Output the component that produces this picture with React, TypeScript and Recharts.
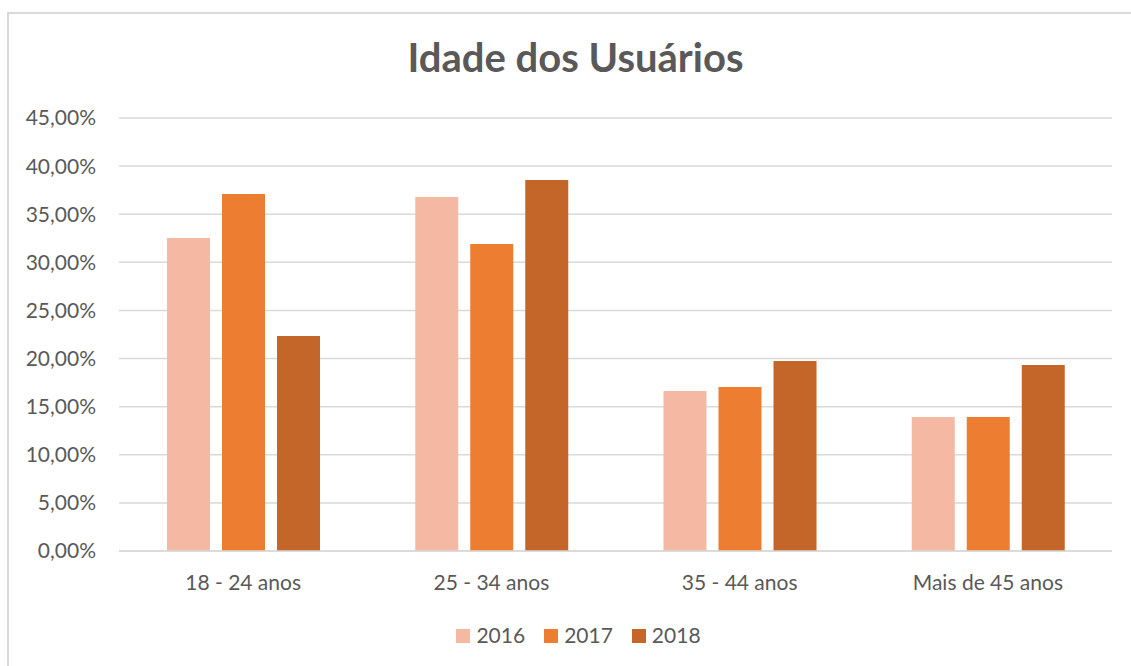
import { Bar, BarChart, CartesianGrid, XAxis, YAxis } from "recharts";

// Faixas etárias e participação por ano (frações de 1)
const categories = ["18 - 24 anos", "25 - 34 anos", "35 - 44 anos", "Mais de 45 anos"];
const values2016 = [0.3253, 0.3679, 0.1663, 0.1393];
const values2017 = [0.371, 0.319, 0.1704, 0.1393];
const values2018 = [0.2234, 0.3856, 0.1975, 0.1933];
const yTicks = [0, 0.05, 0.1, 0.15, 0.2, 0.25, 0.3, 0.35, 0.4, 0.45];

const series = [
  { key: "2016", color: "#F4B8A3" },
  { key: "2017", color: "#ED7D31" },
  { key: "2018", color: "#C4652A" },
];

const data = categories.map((label, i) => ({
  label,
  "2016": values2016[i],
  "2017": values2017[i],
  "2018": values2018[i],
}));

const FONT = "Lato, 'Open Sans', sans-serif";
const TEXT = "#595959";
const GRID = "#D9D9D9";

const pct = (v: number) => (v * 100).toFixed(2).replace(".", ",") + "%";

export default function App() {
  return (
    <div
      style={{
        position: "absolute",
        left: 0,
        top: 0,
        width: 1131,
        height: 666,
        background: "#fff",
        fontFamily: FONT,
        overflow: "hidden",
      }}
    >
      <div
        style={{
          position: "absolute",
          left: 7,
          top: 12,
          width: 1200,
          height: 700,
          borderLeft: `2px solid ${GRID}`,
          borderTop: `2px solid ${GRID}`,
        }}
      />
      <div
        style={{
          position: "absolute",
          left: 10,
          top: 33,
          width: 1131,
          textAlign: "center",
          fontSize: 40,
          fontWeight: 700,
          color: TEXT,
        }}
      >
        Idade dos Usuários
      </div>
      <div style={{ position: "absolute", left: 0, top: 0 }}>
        <BarChart
          width={1131}
          height={666}
          data={data}
          margin={{ top: 118, right: 19, left: 0, bottom: 55 }}
          barSize={43}
          barGap={12}
        >
          <CartesianGrid vertical={false} stroke={GRID} strokeWidth={1.5} />
          <XAxis
            dataKey="label"
            height={60}
            tickLine={false}
            axisLine={{ stroke: GRID, strokeWidth: 1.5 }}
            tickSize={0}
            tickMargin={24}
            tick={{ fill: TEXT, fontSize: 21, fontFamily: FONT }}
          />
          <YAxis
            width={119}
            domain={[0, 0.45]}
            ticks={yTicks}
            tickFormatter={pct}
            tickLine={false}
            axisLine={false}
            tickSize={0}
            tickMargin={23}
            tick={{ fill: TEXT, fontSize: 21, fontFamily: FONT }}
          />
          {series.map((s) => (
            <Bar key={s.key} dataKey={s.key} fill={s.color} isAnimationActive={false} />
          ))}
        </BarChart>
      </div>
      <div
        style={{
          position: "absolute",
          left: 13,
          top: 622,
          width: 1131,
          display: "flex",
          justifyContent: "center",
          gap: 19,
          fontSize: 21,
          color: TEXT,
        }}
      >
        {series.map((s) => (
          <div key={s.key} style={{ display: "flex", alignItems: "flex-start" }}>
            <span
              style={{
                display: "inline-block",
                width: 14,
                height: 14,
                marginTop: 7,
                marginRight: 6,
                background: s.color,
              }}
            />
            <span>{s.key}</span>
          </div>
        ))}
      </div>
    </div>
  );
}
